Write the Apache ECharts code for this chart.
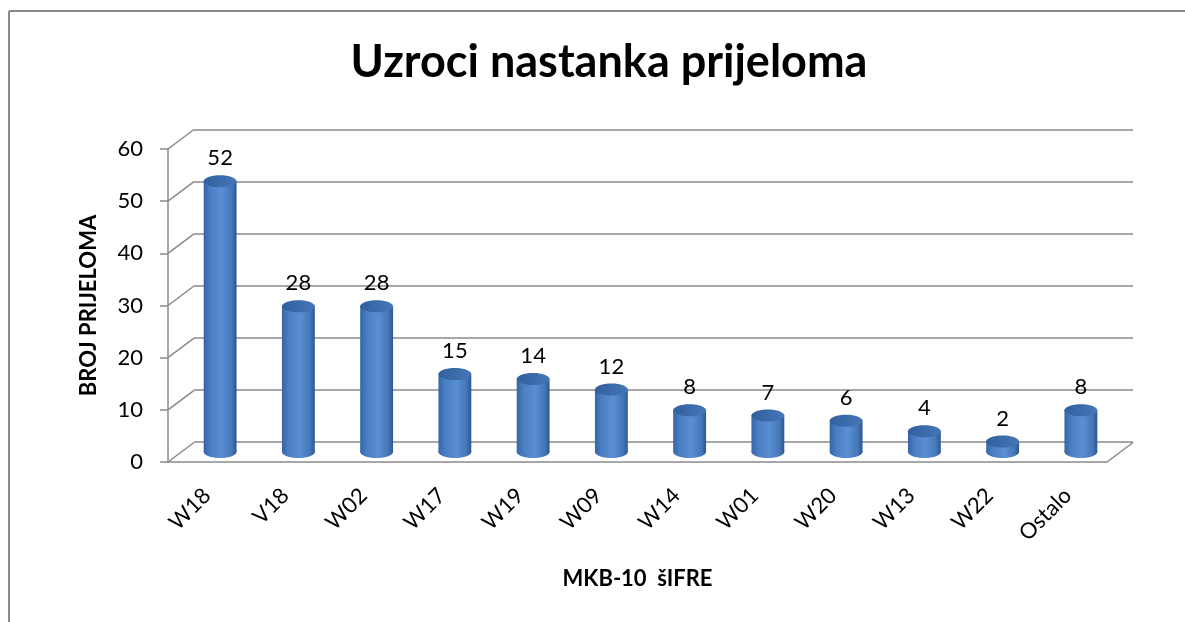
<!DOCTYPE html>
<html>
<head>
<meta charset="utf-8">
<script src="https://cdn.jsdelivr.net/npm/echarts@6/dist/echarts.min.js"></script>
<style>
  html, body { margin: 0; padding: 0; background: #fff; overflow: hidden; }
  #chart { width: 1185px; height: 622px; }
</style>
</head>
<body>
<div id="chart"></div>
<script>
// data
var categories = ['W18', 'V18', 'W02', 'W17', 'W19', 'W09', 'W14', 'W01', 'W20', 'W13', 'W22', 'Ostalo'];
var values = [52, 28, 28, 15, 14, 12, 8, 7, 6, 4, 2, 8];
var yTicks = [0, 10, 20, 30, 40, 50, 60];

var titleText = 'Uzroci nastanka prijeloma';
var xName = 'MKB-10  šIFRE';
var yName = 'BROJ PRIJELOMA';

(function() {
  var font = 'Lato, "Open Sans", sans-serif';
  var lineColor = '#8a8a8a';
  var DX = 26, DY = -19.5; // depth offset front -> back wall

  var chart = echarts.init(document.getElementById('chart'), null, { renderer: 'canvas' });

  var valAxis = function(extra) {
    var o = { type: 'value', min: 0, max: 60, interval: 10 };
    for (var k in extra) o[k] = extra[k];
    return o;
  };
  var catAxis = function(extra) {
    var o = { type: 'category', data: categories, boundaryGap: true };
    for (var k in extra) o[k] = extra[k];
    return o;
  };

  var barGrad = new echarts.graphic.LinearGradient(0, 0, 1, 0, [
    { offset: 0, color: '#3465a6' },
    { offset: 0.2, color: '#4a7ec2' },
    { offset: 0.55, color: '#5a8fd3' },
    { offset: 0.85, color: '#4577b9' },
    { offset: 1, color: '#2d578f' }
  ]);
  var topGrad = new echarts.graphic.LinearGradient(0, 0, 1, 0, [
    { offset: 0, color: '#30609e' },
    { offset: 1, color: '#4676b6' }
  ]);

  chart.setOption({
    animation: false,
    backgroundColor: '#fff',
    title: {
      text: titleText,
      left: 604, top: 35, textAlign: 'center',
      textStyle: { fontFamily: font, fontWeight: 'bold', fontSize: 45, color: '#000' }
    },
    graphic: [
      { type: 'line', silent: true, shape: { x1: 9, y1: 11, x2: 1185, y2: 11 }, style: { stroke: '#888', lineWidth: 2 } },
      { type: 'line', silent: true, shape: { x1: 9, y1: 11, x2: 9, y2: 622 }, style: { stroke: '#888', lineWidth: 2 } }
    ],
    grid: [
      { left: 168, top: 149, width: 939, height: 313 },   // front plane
      { left: 181, top: 139.5, width: 939, height: 312.5 }, // middle (bars)
      { left: 194, top: 130, width: 939, height: 312 }    // back wall
    ],
    xAxis: [
      catAxis({
        gridIndex: 0,
        axisLine: { lineStyle: { color: lineColor, width: 1.5 } },
        axisTick: { show: false },
        axisLabel: { rotate: 45, margin: 30, color: '#000', fontSize: 22, fontFamily: font },
        name: xName, nameLocation: 'middle', nameGap: 106,
        nameTextStyle: { fontFamily: font, fontWeight: 'bold', fontSize: 22, color: '#000' }
      }),
      catAxis({ gridIndex: 1, show: false }),
      catAxis({ gridIndex: 2, show: false })
    ],
    yAxis: [
      valAxis({
        gridIndex: 0,
        axisLine: { show: true, lineStyle: { color: lineColor, width: 1.5 } },
        axisTick: { show: true, length: 8, lineStyle: { color: lineColor, width: 1.5 } },
        axisLabel: { margin: 25, color: '#000', fontSize: 22, fontFamily: font },
        splitLine: { show: false },
        name: yName, nameLocation: 'middle', nameGap: 68,
        nameTextStyle: { fontFamily: font, fontWeight: 'bold', fontSize: 22, color: '#000' }
      }),
      valAxis({ gridIndex: 1, show: false }),
      valAxis({
        gridIndex: 2,
        axisLine: { show: false }, axisTick: { show: false }, axisLabel: { show: false },
        splitLine: { show: true, lineStyle: { color: lineColor, width: 1.5 } }
      })
    ],
    series: [
      {
        // left wall diagonals and right floor edge
        type: 'custom',
        xAxisIndex: 0, yAxisIndex: 0,
        silent: true,
        data: yTicks.map(function(v) { return [0, v]; }),
        renderItem: function(params, api) {
          var cs = params.coordSys;
          var y = api.coord([0, api.value(1)])[1];
          var style = { stroke: lineColor, lineWidth: 1.5 };
          var kids = [{
            type: 'line',
            shape: { x1: cs.x, y1: y, x2: cs.x + DX, y2: y + DY },
            style: style
          }];
          if (api.value(1) === 0) {
            kids.push({
              type: 'line',
              shape: { x1: cs.x + cs.width, y1: y, x2: cs.x + cs.width + DX, y2: y + DY },
              style: style
            });
          }
          return { type: 'group', children: kids };
        },
        z: 1
      },
      {
        // cylinders
        type: 'custom',
        xAxisIndex: 1, yAxisIndex: 1,
        data: values.map(function(v, i) { return [i, v]; }),
        renderItem: function(params, api) {
          var top = api.coord([api.value(0), api.value(1)]);
          var base = api.coord([api.value(0), 0]);
          var w = api.size([1, 0])[0] * 0.42;
          var rx = w / 2, ry = 6;
          return {
            type: 'group',
            children: [
              { type: 'ellipse', shape: { cx: base[0], cy: base[1], rx: rx, ry: ry }, style: { fill: barGrad } },
              { type: 'rect', shape: { x: top[0] - rx, y: top[1], width: w, height: base[1] - top[1] }, style: { fill: barGrad } },
              { type: 'ellipse', shape: { cx: top[0], cy: top[1], rx: rx, ry: ry }, style: { fill: topGrad } },
              {
                type: 'text',
                x: top[0], y: top[1] - ry - 17,
                style: {
                  text: String(api.value(1)), fill: '#000',
                  fontSize: 22, fontFamily: font,
                  align: 'center', verticalAlign: 'middle'
                }
              }
            ]
          };
        },
        z: 3
      }
    ]
  });
  window.addEventListener('resize', function() { chart.resize(); });
})();
</script>
</body>
</html>
